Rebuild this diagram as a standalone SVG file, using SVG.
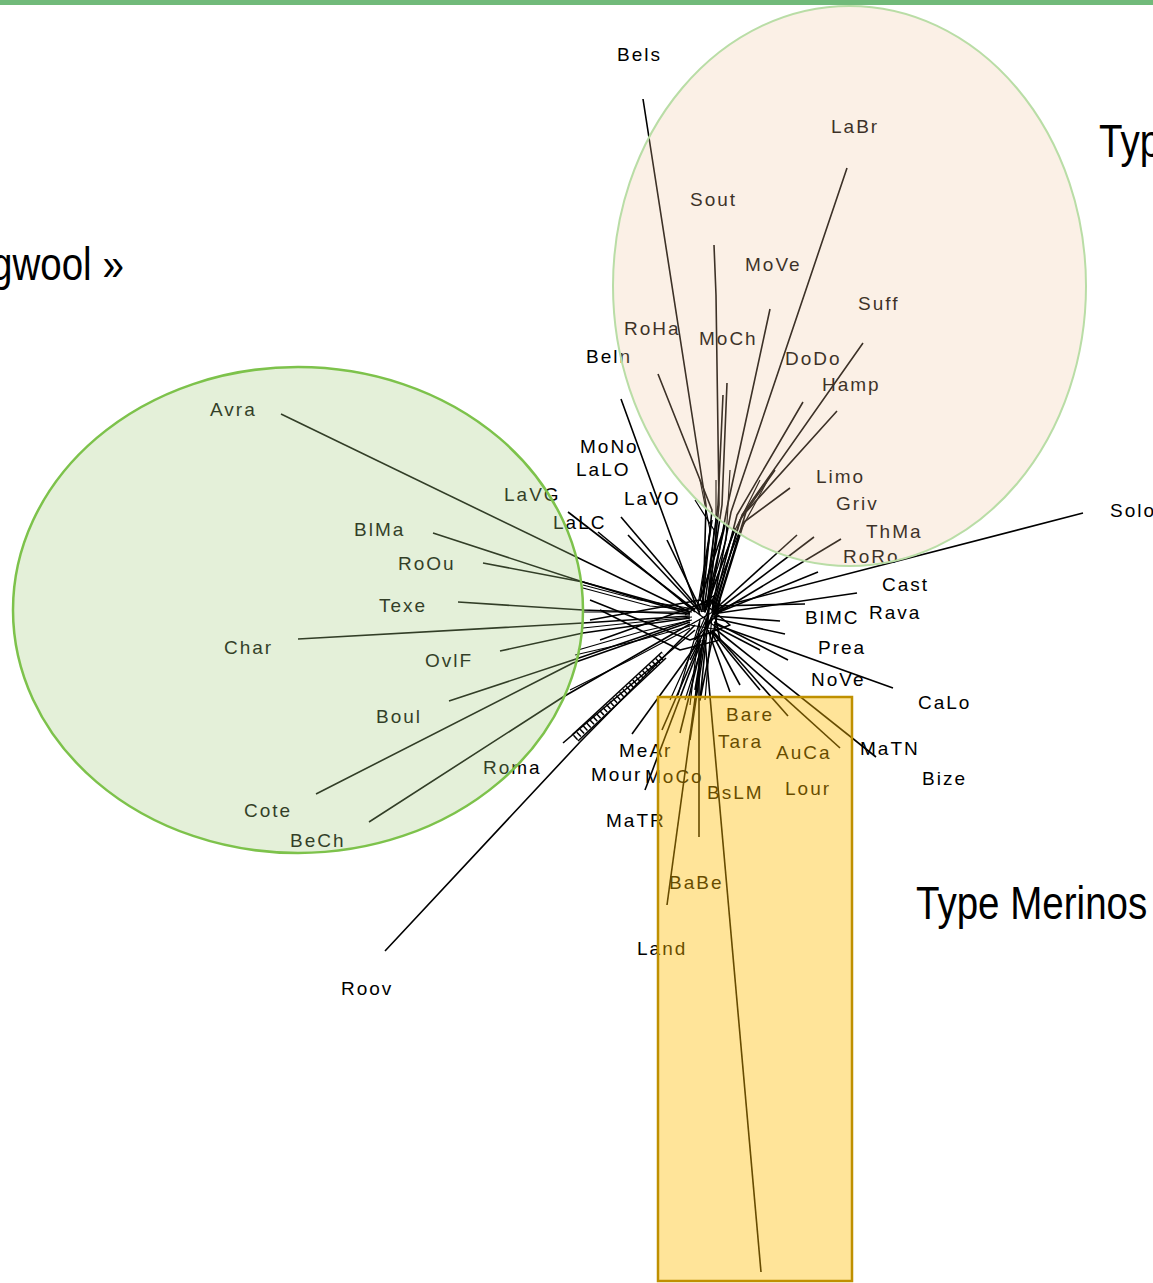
<svg xmlns="http://www.w3.org/2000/svg" width="1153" height="1283" viewBox="0 0 1153 1283">
<style>
.e{fill:none;stroke:#000;stroke-width:1.6;stroke-linejoin:round}
.w{fill:none;stroke:#000;stroke-width:1.2}
.lb{font-family:"Liberation Sans",Arial,sans-serif;font-size:19px;letter-spacing:2px;fill:#000}
.big{font-family:"Liberation Sans",Arial,sans-serif;font-size:47px;fill:#000}
</style>
<rect x="0" y="0" width="1153" height="1283" fill="#fff"/>
<rect x="0" y="0" width="1153" height="5" fill="#71BA7A"/>
<g id="connectors">
<polyline class="e" points="643,99 706,505 703,612"/>
<polyline class="e" points="714,245 716,295 719,505 708,612"/>
<polyline class="e" points="847,168 731,512 712,610"/>
<polyline class="e" points="770,309 727,508 709,608"/>
<polyline class="e" points="863,343 742,515 714,608"/>
<polyline class="e" points="803,402 737,515 712,612"/>
<polyline class="e" points="837,411 746,512 716,610"/>
<polyline class="e" points="727,383 722,505 706,610"/>
<polyline class="e" points="723,395 718,505 704,610"/>
<polyline class="e" points="658,374 712,510 702,610"/>
<polyline class="e" points="775,470 740,520 714,612"/>
<polyline class="e" points="790,488 744,522 716,612"/>
<polyline class="e" points="621,399 694,600 700,615"/>
<polyline class="w" points="700,480 710,530 698,605"/>
<polyline class="w" points="760,480 735,530 706,605"/>
<polyline class="w" points="770,476 738,535 710,606"/>
<polyline class="w" points="716,480 716,540 700,610"/>
<polyline class="w" points="730,470 726,540 704,612"/>
<polyline class="w" points="695,500 714,530 708,600"/>
<polyline class="e" points="797,535 712,612"/>
<polyline class="e" points="814,537 715,612"/>
<polyline class="e" points="841,539 716,614"/>
<polyline class="e" points="818,572 712,615"/>
<polyline class="e" points="1083,513 735,603 712,614"/>
<polyline class="e" points="857,593 712,614"/>
<polyline class="e" points="805,604 712,606"/>
<polyline class="e" points="780,621 712,616"/>
<polyline class="e" points="785,634 712,618"/>
<polyline class="e" points="788,660 714,622"/>
<polyline class="e" points="893,688 714,624"/>
<polyline class="e" points="760,650 714,626"/>
<polyline class="e" points="788,716 712,630"/>
<polyline class="e" points="840,748 712,632"/>
<polyline class="e" points="876,757 714,628"/>
<polyline class="e" points="740,685 710,630"/>
<polyline class="e" points="730,692 708,630"/>
<polyline class="e" points="760,690 712,632"/>
<polyline class="e" points="705,640 761,1272"/>
<polyline class="e" points="699,635 699,837"/>
<polyline class="e" points="703,640 667,905"/>
<polyline class="e" points="632,734 700,640"/>
<polyline class="e" points="662,730 701,640"/>
<polyline class="e" points="680,733 703,640"/>
<polyline class="e" points="690,740 705,640"/>
<polyline class="e" points="645,790 700,645"/>
<polyline class="w" points="670,700 706,620 695,700"/>
<polyline class="w" points="685,700 712,615 705,700"/>
<polyline class="w" points="678,695 700,620 690,705"/>
<polyline class="e" points="281,414 690,612"/>
<polyline class="e" points="433,533 583,582 690,614"/>
<polyline class="e" points="483,563 583,582 690,612"/>
<polyline class="e" points="458,602 583,610 690,614"/>
<polyline class="e" points="298,639 583,623 690,616"/>
<polyline class="e" points="500,651 583,633 690,618"/>
<polyline class="e" points="449,701 573,660 690,620"/>
<polyline class="e" points="316,794 573,663 690,622"/>
<polyline class="e" points="369,822 563,697 690,624"/>
<polyline class="w" points="583,585 640,600 688,608"/>
<polyline class="w" points="583,588 650,606 692,610"/>
<polyline class="w" points="583,612 640,612 692,612"/>
<polyline class="w" points="583,628 640,622 692,617"/>
<polyline class="w" points="578,650 640,632 692,620"/>
<polyline class="w" points="575,655 640,640 690,626"/>
<polyline class="w" points="570,690 630,660 690,628"/>
<polyline class="e" points="568,512 695,610"/>
<polyline class="e" points="598,532 695,612"/>
<polyline class="e" points="621,517 700,610"/>
<polyline class="e" points="628,535 700,612"/>
<polyline class="e" points="667,540 702,612"/>
<polyline class="e" points="563,743 695,630"/>
<polyline class="e" points="385,951 580,742 695,625"/>
<polyline class="e" points="572,735 662,652"/>
<polyline class="e" points="578,741 666,658"/>
<line x1="575" y1="738" x2="664" y2="655" stroke="#000" stroke-width="6" stroke-dasharray="1.5 3"/>
<polyline class="e" points="590,620 700,600 730,625 690,640 590,600"/>
<polyline class="e" points="600,640 712,600 720,640 680,650 600,610"/>
<polyline class="e" points="690,660 720,600 700,700 710,600 695,690"/>
<polyline class="e" points="712,520 700,600 725,525 705,612 735,528"/>
<polyline class="w" points="680,600 720,630 690,625 725,605 695,640 715,595 685,615"/>
</g>
<g id="labels">
<g id="n-Bels"><text class="lb" x="617" y="61">Bels</text></g>
<g id="n-LaBr"><text class="lb" x="831" y="133">LaBr</text></g>
<g id="n-Sout"><text class="lb" x="690" y="206">Sout</text></g>
<g id="n-MoVe"><text class="lb" x="745" y="271">MoVe</text></g>
<g id="n-Suff"><text class="lb" x="858" y="310">Suff</text></g>
<g id="n-RoHa"><text class="lb" x="624" y="335">RoHa</text></g>
<g id="n-MoCh"><text class="lb" x="699" y="345">MoCh</text></g>
<g id="n-Beln"><text class="lb" x="586" y="363">Beln</text></g>
<g id="n-DoDo"><text class="lb" x="785" y="365">DoDo</text></g>
<g id="n-Hamp"><text class="lb" x="822" y="391">Hamp</text></g>
<g id="n-Avra"><text class="lb" x="210" y="416">Avra</text></g>
<g id="n-MoNo"><text class="lb" x="580" y="453">MoNo</text></g>
<g id="n-LaLO"><text class="lb" x="576" y="476">LaLO</text></g>
<g id="n-Limo"><text class="lb" x="816" y="483">Limo</text></g>
<g id="n-LaVG"><text class="lb" x="504" y="501">LaVG</text></g>
<g id="n-LaVO"><text class="lb" x="624" y="505">LaVO</text></g>
<g id="n-Griv"><text class="lb" x="836" y="510">Griv</text></g>
<g id="n-Solo"><text class="lb" x="1110" y="517">Solo</text></g>
<g id="n-LaLC"><text class="lb" x="553" y="529">LaLC</text></g>
<g id="n-BlMa"><text class="lb" x="354" y="536">BlMa</text></g>
<g id="n-ThMa"><text class="lb" x="866" y="538">ThMa</text></g>
<g id="n-RoRo"><text class="lb" x="843" y="563">RoRo</text></g>
<g id="n-RoOu"><text class="lb" x="398" y="570">RoOu</text></g>
<g id="n-Cast"><text class="lb" x="882" y="591">Cast</text></g>
<g id="n-Texe"><text class="lb" x="379" y="612">Texe</text></g>
<g id="n-Rava"><text class="lb" x="869" y="619">Rava</text></g>
<g id="n-BlMC"><text class="lb" x="805" y="624">BlMC</text></g>
<g id="n-Char"><text class="lb" x="224" y="654">Char</text></g>
<g id="n-Prea"><text class="lb" x="818" y="654">Prea</text></g>
<g id="n-OvlF"><text class="lb" x="425" y="667">OvlF</text></g>
<g id="n-NoVe"><text class="lb" x="811" y="686">NoVe</text></g>
<g id="n-CaLo"><text class="lb" x="918" y="709">CaLo</text></g>
<g id="n-Bare"><text class="lb" x="726" y="721">Bare</text></g>
<g id="n-Boul"><text class="lb" x="376" y="723">Boul</text></g>
<g id="n-Tara"><text class="lb" x="718" y="748">Tara</text></g>
<g id="n-MaTN"><text class="lb" x="860" y="755">MaTN</text></g>
<g id="n-MeAr"><text class="lb" x="619" y="757">MeAr</text></g>
<g id="n-AuCa"><text class="lb" x="776" y="759">AuCa</text></g>
<g id="n-Roma"><text class="lb" x="483" y="774">Roma</text></g>
<g id="n-Mour"><text class="lb" x="591" y="781">Mour</text></g>
<g id="n-MoCo"><text class="lb" x="645" y="783">MoCo</text></g>
<g id="n-Bize"><text class="lb" x="922" y="785">Bize</text></g>
<g id="n-Lour"><text class="lb" x="785" y="795">Lour</text></g>
<g id="n-BsLM"><text class="lb" x="707" y="799">BsLM</text></g>
<g id="n-Cote"><text class="lb" x="244" y="817">Cote</text></g>
<g id="n-MaTR"><text class="lb" x="606" y="827">MaTR</text></g>
<g id="n-BeCh"><text class="lb" x="290" y="847">BeCh</text></g>
<g id="n-BaBe"><text class="lb" x="669" y="889">BaBe</text></g>
<g id="n-Land"><text class="lb" x="637" y="955">Land</text></g>
<g id="n-Roov"><text class="lb" x="341" y="995">Roov</text></g>
</g>
<g id="group-longwool">
<ellipse cx="298" cy="610" rx="285" ry="243" fill="rgb(165,205,130)" fill-opacity="0.3"/>
<ellipse cx="298" cy="610" rx="285" ry="243" fill="none" stroke="#7DC24B" stroke-width="2.5"/>
</g>
<g id="group-top">
<ellipse cx="849.5" cy="286" rx="236.5" ry="280" fill="rgb(240,196,156)" fill-opacity="0.25"/>
<ellipse cx="849.5" cy="286" rx="236.5" ry="280" fill="none" stroke="#B9DDA6" stroke-width="2"/>
</g>
<g id="group-merinos">
<rect x="658" y="697" width="194" height="584" fill="rgb(255,187,0)" fill-opacity="0.4"/>
<rect x="658" y="697" width="194" height="584" fill="none" stroke="#BF9000" stroke-width="2.5"/>
</g>
<g id="titles">
<text class="big" transform="translate(-9,280) scale(0.82,1)">gwool »</text>
<text class="big" transform="translate(1099,157) scale(0.82,1)">Typ</text>
<text class="big" transform="translate(916,919) scale(0.82,1)">Type Merinos</text>
</g>
</svg>
